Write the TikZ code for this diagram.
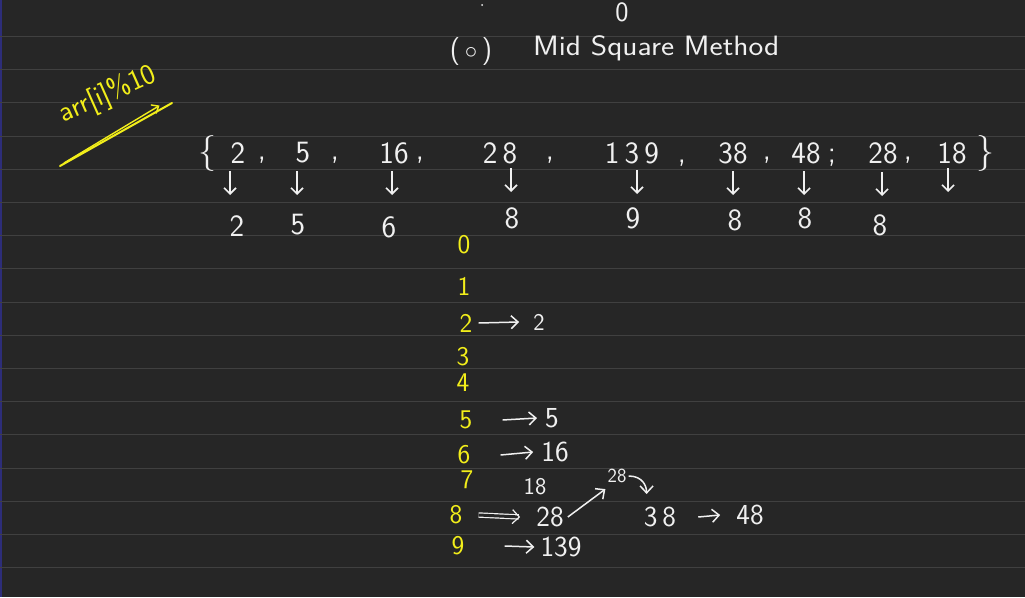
\documentclass[tikz,border=0pt]{standalone}
\usetikzlibrary{arrows.meta,calc}
\definecolor{bg}{HTML}{262626}
\definecolor{rulecol}{HTML}{404040}
\definecolor{chalk}{HTML}{F0F0F0}
\definecolor{hl}{HTML}{F2EE1A}
\begin{document}
\begin{tikzpicture}[x=1pt,y=-1pt,
  w/.style={text=chalk,inner sep=0pt,font=\sffamily\fontsize{31}{31}\selectfont},
  res/.style={text=chalk,inner sep=0pt,font=\sffamily\fontsize{31}{31}\selectfont},
  idx/.style={text=hl,inner sep=0pt,font=\sffamily\fontsize{27}{27}\selectfont},
  ent/.style={text=chalk,inner sep=0pt,font=\sffamily\fontsize{29}{29}\selectfont},
  arr/.style={draw=chalk,line width=1.6pt,-{Straight Barb[length=6pt,width=12pt]}},
  harr/.style={draw=chalk,line width=1.5pt,-{Straight Barb[length=7pt,width=13pt]}},
  ttl/.style={text=chalk,inner sep=0pt,font=\sffamily\fontsize{28}{28}\selectfont}]
\useasboundingbox (0,0) rectangle (1025,597);
\fill[bg] (0,0) rectangle (1025,597);
\fill[rulecol!70!blue] (0,0) rectangle (2,597);
\foreach \k in {0,...,16}{
  \pgfmathsetmacro\yy{round(36+33.2*\k)+0.5}
  \draw[rulecol,line width=1pt] (0,\yy) -- (1025,\yy);}

% top
\node[ttl] (topzero) at (622,12) {0};
\fill[chalk] (482,5) circle (1pt);
\node[ttl] (paren) at (471,52) {(\,$\circ$\,)};
\node[ttl,xscale=1.12,anchor=west] (title) at (533,48) {Mid Square Method};

% yellow formula
\node[text=hl,inner sep=0pt,font=\sffamily\fontsize{29}{29}\selectfont,rotate=24] (formula) at (108,95) {arr[i]\%10};
\coordinate (fa) at (60,166);
\coordinate (fb) at (172,103);
\draw[hl,line width=2pt,line cap=round] (fa) -- (fb);
\draw[hl,line width=1.4pt,-{Straight Barb[length=6pt,width=10pt]}] ($(fa)+(4,-3)$) -- ($(fa)!0.88!(fb)+(1,-5)$);

% the set
\node[w,font=\sffamily\fontsize{36}{36}\selectfont] (lb) at (207,153) {\{};
\node[w] (s1) at (238,153) {2};
\node[w] (c1) at (262,160) {,};
\node[w] (s2) at (303,153) {5};
\node[w] (c2) at (335,160) {,};
\node[w] (s3) at (394,153) {16};
\node[w] (c3) at (420,160) {,};
\node[w] (s4) at (500,153) {2\,8};
\node[w] (c4) at (550,160) {,};
\node[w] (s5) at (632,153) {1\,3\,9};
\node[w] (c5) at (682,163) {,};
\node[w] (s6) at (733,153) {38};
\node[w] (c6) at (767,160) {,};
\node[w] (s7) at (806,153) {48};
\node[w] (c7) at (832,158) {;};
\node[w] (s8) at (883,153) {28};
\node[w] (c8) at (908,160) {,};
\node[w] (s9) at (952,153) {18};
\node[w,font=\sffamily\fontsize{36}{36}\selectfont] (rb) at (985,153) {\}};

% results
\node[res] (r1) at (237,226) {2};
\node[res] (r2) at (298,225) {5};
\node[res] (r3) at (389,227) {6};
\node[res] (r4) at (512,218) {8};
\node[res] (r5) at (633,218) {9};
\node[res] (r6) at (735,220) {8};
\node[res] (r7) at (805,218) {8};
\node[res] (r8) at (880,225) {8};
\coordinate (r9) at (948,205);

\foreach \a/\s/\r/\y in {230/s1/r1/171,297/s2/r2/171,392/s3/r3/171,511/s4/r4/168,637/s5/r5/170,733/s6/r6/171,804/s7/r7/171,882/s8/r8/172,948/s9/r9/168}
  \draw[arr] (\a,\y) -- (\a,{\y+24});

% index column
\node[idx] (i0) at (464,245) {0};
\node[idx] (i1) at (464,286) {1};
\node[idx] (i2) at (466,323) {2};
\node[idx] (i3) at (463,357) {3};
\node[idx] (i4) at (463,383) {4};
\node[idx] (i5) at (466,420) {5};
\node[idx] (i6) at (464,455) {6};
\node[idx] (i7) at (467,480) {7};
\node[idx] (i8) at (456,515) {8};
\node[idx] (i9) at (458,546) {9};

% entries
\node[ent,font=\sffamily\fontsize{24}{24}\selectfont] (e2) at (539,322) {2};
\node[ent] (e5) at (552,418) {5};
\node[ent] (e6) at (555,452) {16};
\node[ent,font=\sffamily\fontsize{24}{24}\selectfont] (e7) at (535,487) {18};
\node[ent] (e8a) at (550,517) {28};
\node[ent,font=\sffamily\fontsize{20}{20}\selectfont] (e8b) at (617,476) {28};
\node[ent] (e8c) at (660,517) {3\,8};
\node[ent] (e8d) at (750,515) {48};
\node[ent] (e9) at (561,547) {139};

\draw[harr] ($(i2.east)+(6,0)$) -- ($(e2.west)+(-14,0)$);
\draw[harr] ($(i5.east)+(30,0)$) -- ($(e5.west)+(-8,0)$);
\draw[harr] ($(i6.east)+(30,0)$) -- ($(e6.west)+(-8,0)$);
\draw[harr] ($(i9.east)+(40,0)$) -- ($(e9.west)+(-6,0)$);
\draw[draw=chalk,line width=1.2pt,double=bg,double distance=3pt,-{Straight Barb[length=7pt,width=14pt]}] ($(i8.east)+(16,0)$) -- ($(e8a.west)+(-16,0)$);
\draw[harr] ($(e8a.east)+(4,0)$) -- ($(e8b.south west)+(-2,6)$);
\draw[harr] ($(e8b.east)+(2,0)$) .. controls +(14,0) and +(0,-8) .. ($(e8b.east)+(20,18)$);
\draw[harr] ($(e8c.east)+(22,0)$) -- ($(e8d.west)+(-16,0)$);
\end{tikzpicture}
\end{document}
